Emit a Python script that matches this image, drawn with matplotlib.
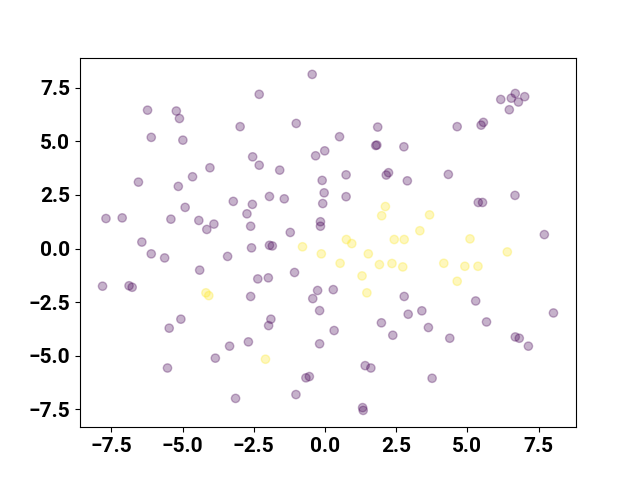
import matplotlib
matplotlib.use('Agg')
import matplotlib.pyplot as plt
from matplotlib.ticker import MultipleLocator

# 紫色点 (label 0)
x0 = [-0.45, -2.31, -6.23, -5.22, -5.11, -2.98, -1.01, -6.10, -4.99, -0.01,
      -0.33, -2.54, -2.31, -1.59, -4.04, -4.65, -6.55, -5.15, -0.10, -0.03,
      -0.08, -1.95, -1.43, -3.22, -2.55, -4.91, -2.74, -2.61, -7.69, -7.12,
      -5.41, -4.43, -3.90, -4.15, -0.16, -0.16, -1.22, -6.43, -2.58, -1.95,
      -1.85,
      6.17, 6.68, 6.54, 7.01, 6.79, 6.47, 4.64, 5.56, 5.48, 1.85,
      0.51, 1.78, 1.82, 2.77, 0.74, 2.15, 2.23, 2.89, 4.33, 0.74,
      5.38, 5.53, 6.67, 7.70,
      -6.10, -5.63, -3.42, -4.40, -7.81, -6.88, -6.77, -2.36, -1.99, -1.07,
      -2.61, -0.26, -0.43, -0.19, 0.29, -5.06, -5.47, -1.90, -1.98, -3.35,
      -2.69, -0.19, -3.85, -5.53, -0.67, -0.55, -3.14, -1.02,
      0.32, 2.78, 2.92, 3.40, 1.98, 2.38, 3.63, 4.38, 5.29, 5.67,
      6.68, 6.82, 7.14, 8.02, 1.41, 1.61, 3.76, 1.32, 1.34]
y0 = [8.13, 7.20, 6.46, 6.42, 6.07, 5.69, 5.84, 5.19, 5.06, 4.56,
      4.33, 4.28, 3.89, 3.66, 3.77, 3.35, 3.10, 2.90, 3.18, 2.60,
      2.10, 2.43, 2.32, 2.20, 2.06, 1.92, 1.62, 1.04, 1.40, 1.43,
      1.37, 1.31, 1.14, 0.89, 1.25, 1.04, 0.75, 0.30, 0.03, 0.15,
      0.12,
      6.96, 7.24, 7.02, 7.09, 6.84, 6.48, 5.69, 5.89, 5.76, 5.67,
      5.22, 4.81, 4.83, 4.75, 3.44, 3.43, 3.54, 3.16, 3.46, 2.42,
      2.15, 2.15, 2.48, 0.65,
      -0.25, -0.44, -0.37, -1.01, -1.76, -1.74, -1.81, -1.42, -1.37, -1.12,
      -2.24, -1.96, -2.34, -2.90, -1.92, -3.30, -3.72, -3.30, -3.60, -4.56,
      -4.36, -4.45, -5.12, -5.58, -6.04, -5.98, -7.00, -6.82,
      -3.83, -2.24, -3.07, -2.91, -3.47, -4.05, -3.69, -4.19, -2.45, -3.43,
      -4.13, -4.19, -4.56, -3.01, -5.47, -5.58, -6.06, -7.43, -7.56]

# 黄色点 (label 1)
x1 = [-0.79, 2.12, 1.99, 3.67, 3.33, 0.75, 0.94, 2.43, 2.78, 5.09,
      6.40, -0.13, -4.18, -4.08, -2.09, 1.52, 0.53, 1.91, 2.35, 2.73,
      1.30, 1.47, 4.17, 4.91, 5.37, 4.64]
y1 = [0.08, 1.96, 1.53, 1.57, 0.83, 0.42, 0.23, 0.42, 0.42, 0.45,
      -0.16, -0.25, -2.07, -2.20, -5.17, -0.25, -0.69, -0.75, -0.70, -0.86,
      -1.28, -2.07, -0.69, -0.83, -0.83, -1.53]


def draw_scatter():
    plt.rcParams['font.family'] = ['Roboto', 'DejaVu Sans']
    plt.rcParams['font.weight'] = 'bold'
    plt.rcParams['xtick.labelsize'] = 15
    plt.rcParams['ytick.labelsize'] = 15
    x = x0 + x1
    y = y0 + y1
    labels = [0] * len(x0) + [1] * len(x1)
    fig, ax = plt.subplots(figsize=(6.4, 4.8), dpi=100)
    ax.scatter(x, y, c=labels, cmap='viridis', alpha=0.3)
    ax.xaxis.set_major_locator(MultipleLocator(2.5))
    ax.yaxis.set_major_locator(MultipleLocator(2.5))
    fig.savefig('out.png')


if __name__ == '__main__':
    draw_scatter()
